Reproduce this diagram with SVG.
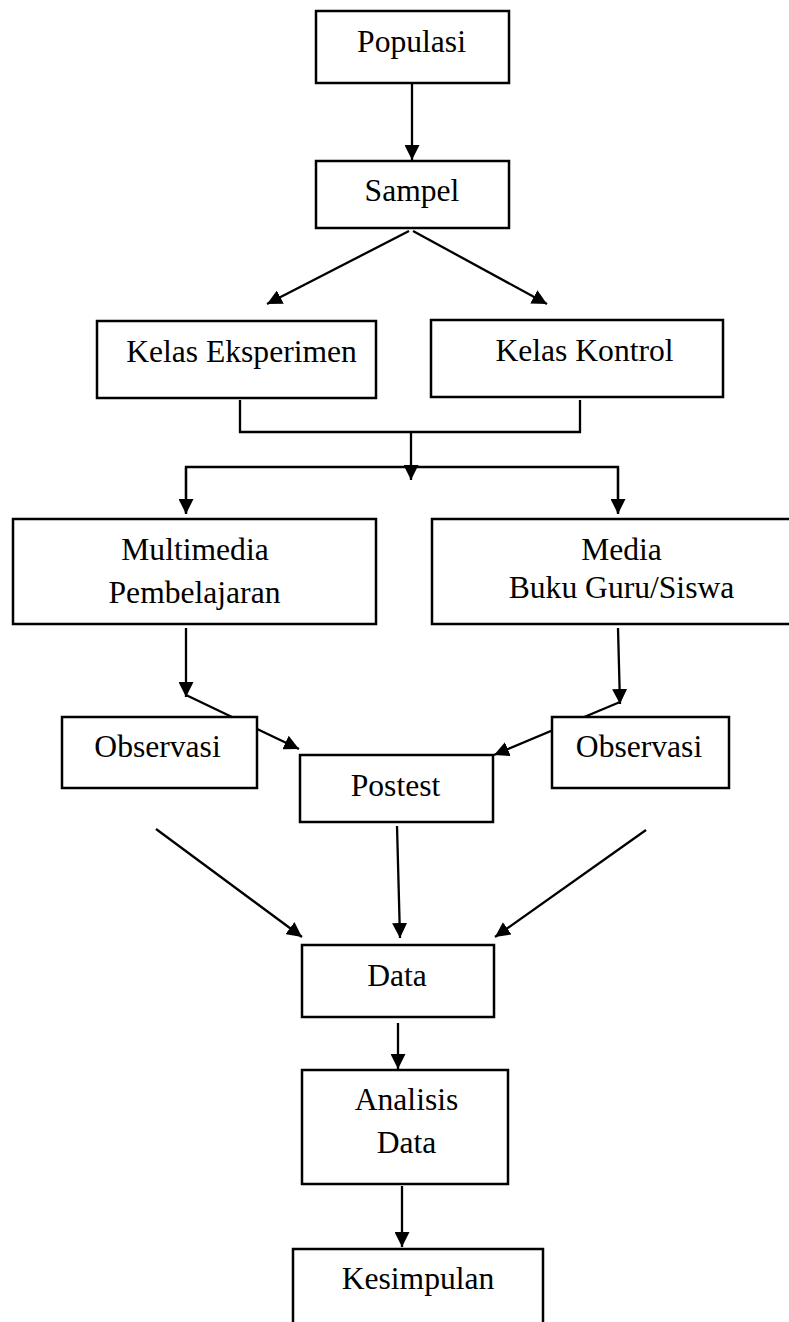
<svg xmlns="http://www.w3.org/2000/svg" width="789" height="1322" viewBox="0 0 789 1322">
<style>
.box{fill:#fff;stroke:#000;stroke-width:2.5}
.t{font-family:"Liberation Serif","Times New Roman",serif;font-size:31.6px;fill:#000;text-anchor:middle}
.ln{fill:none;stroke:#000;stroke-width:2.3}
.ar{fill:none;stroke:#000;stroke-width:2.3;marker-end:url(#ah)}
</style>
<defs>
<marker id="ah" markerUnits="userSpaceOnUse" markerWidth="15" markerHeight="15" refX="15" refY="7.5" orient="auto" viewBox="0 0 15 15">
<path d="M0,0 L15,7.5 L0,15 z" fill="#000"/>
</marker>
</defs>
<rect width="789" height="1322" fill="#fff"/>
<g id="connectors">
<line class="ar" x1="412" y1="84" x2="412" y2="160"/>
<line class="ar" x1="409" y1="231" x2="267" y2="304"/>
<line class="ar" x1="413" y1="231" x2="547" y2="304"/>
<polyline class="ln" points="240,400 240,432 580,432 580,400"/>
<line class="ar" x1="411" y1="432" x2="411" y2="480"/>
<polyline class="ln" points="186,513 186,467 618,467 618,513"/>
<line class="ar" x1="186" y1="467" x2="186" y2="514"/>
<line class="ar" x1="618" y1="467" x2="618" y2="514"/>
<line class="ar" x1="186" y1="628" x2="186" y2="697"/>
<line class="ar" x1="186" y1="695" x2="299" y2="749"/>
<line class="ar" x1="618" y1="628" x2="620" y2="704"/>
<line class="ar" x1="620" y1="702" x2="494" y2="755"/>
<line class="ar" x1="156" y1="829" x2="302" y2="937"/>
<line class="ar" x1="397" y1="826" x2="400" y2="938"/>
<line class="ar" x1="646" y1="830" x2="495" y2="937"/>
<line class="ar" x1="398" y1="1023" x2="398" y2="1069"/>
<line class="ar" x1="402" y1="1186" x2="402" y2="1247"/>
</g>
<g id="populasi"><rect class="box" x="316" y="11" width="193" height="72"/><text class="t" x="411.5" y="52">Populasi</text></g>
<g id="sampel"><rect class="box" x="316" y="161" width="193" height="67"/><text class="t" x="412" y="201">Sampel</text></g>
<g id="kelas-eksperimen"><rect class="box" x="97" y="321" width="279" height="77"/><text class="t" x="241.5" y="362">Kelas Eksperimen</text></g>
<g id="kelas-kontrol"><rect class="box" x="431" y="320" width="292" height="77"/><text class="t" x="584.5" y="361">Kelas Kontrol</text></g>
<g id="multimedia"><rect class="box" x="13" y="519" width="363" height="105"/><text class="t" x="195" y="560">Multimedia</text><text class="t" x="194.5" y="603">Pembelajaran</text></g>
<g id="media"><rect class="box" x="432" y="519" width="380" height="105"/><text class="t" x="621.5" y="560">Media</text><text class="t" x="621.5" y="598">Buku Guru/Siswa</text></g>
<g id="observasi-kiri"><rect class="box" x="62" y="717" width="195" height="71"/><text class="t" x="157.5" y="757">Observasi</text></g>
<g id="postest"><rect class="box" x="300" y="755" width="193" height="67"/><text class="t" x="395.5" y="796">Postest</text></g>
<g id="observasi-kanan"><rect class="box" x="552" y="717" width="177" height="71"/><text class="t" x="639" y="757">Observasi</text></g>
<g id="data"><rect class="box" x="302" y="945" width="192" height="72"/><text class="t" x="397" y="986">Data</text></g>
<g id="analisis-data"><rect class="box" x="302" y="1070" width="206" height="114"/><text class="t" x="406.5" y="1110">Analisis</text><text class="t" x="406.5" y="1153">Data</text></g>
<g id="kesimpulan"><rect class="box" x="293" y="1249" width="250" height="90"/><text class="t" x="418" y="1289">Kesimpulan</text></g>
</svg>
